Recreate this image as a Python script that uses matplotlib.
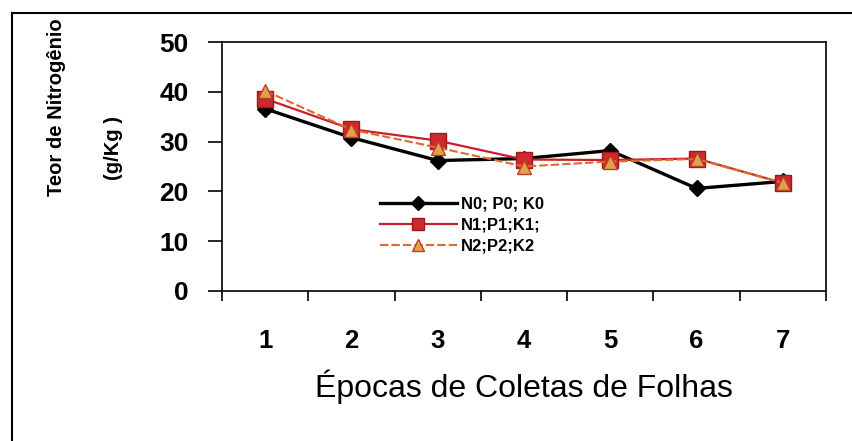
import matplotlib
matplotlib.use("Agg")
import matplotlib.pyplot as plt
from matplotlib.lines import Line2D

epocas = [1, 2, 3, 4, 5, 6, 7]
n0 = [36.6, 30.8, 26.2, 26.6, 28.2, 20.6, 22.0]
n1 = [38.6, 32.5, 30.2, 26.4, 26.3, 26.6, 21.7]
n2 = [40.2, 32.4, 28.8, 25.0, 26.0, 26.5, 21.7]
labels = ["N0; P0; K0", "N1;P1;K1;", "N2;P2;K2"]
yticks = [0, 10, 20, 30, 40, 50]

plt.rcParams['font.family'] = ['Liberation Sans', 'DejaVu Sans']

fig = plt.figure(figsize=(8.53, 4.41), dpi=100)
fig.patch.set_facecolor('white')
ax = fig.add_axes([222/853, 1-291/441, (826-222)/853, (291-42)/441])

ax.plot(epocas, n0, color='black', lw=2.4, marker='D', ms=8,
        mfc='black', mec='black', label=labels[0], zorder=3)
ax.plot(epocas, n1, color='#c8202a', lw=1.6, marker='s', ms=11,
        mfc='#cc2a2e', mec='#a0181c', label=labels[1], zorder=4)
ax.plot(epocas, n2, color='#e06a2c', lw=1.5, ls=(0, (4, 1.5)), marker='^', ms=10,
        mfc='#e0a050', mec='#b8401e', label=labels[2], zorder=5)

ax.set_xlim(0.5, 7.5)
ax.set_ylim(0, 50)
ax.set_yticks(yticks)
ax.set_yticklabels([str(v) for v in yticks], fontsize=19, fontweight='bold')
ax.set_xticks(epocas)
ax.set_xticklabels([str(v) for v in epocas], fontsize=18.5, fontweight='bold')
ax.set_xticks([x + 0.5 for x in [0] + epocas], minor=True)
ax.tick_params(axis='x', which='major', length=0, pad=27)
ax.tick_params(axis='x', which='minor', length=7, width=1.2, direction='out')
ax.tick_params(axis='y', which='major', length=10, width=1.2, direction='out', pad=14)
for s in ax.spines.values():
    s.set_linewidth(1.2)

ax.set_xlabel("Épocas de Coletas de Folhas", fontsize=23, labelpad=12)

fig.text(57/853, 1-107/441, "Teor de Nitrogênio", rotation=90, fontsize=14.5,
         fontweight='bold', ha='center', va='center')
fig.text(114/853, 1-148/441, "(g/Kg )", rotation=90, fontsize=14.5,
         fontweight='bold', ha='center', va='center')

leg = ax.legend(loc='center left', bbox_to_anchor=(0.248, 0.265), frameon=False,
                handlelength=4.6, handletextpad=0.25, labelspacing=0.35,
                borderpad=0, markerscale=0.85, prop={'weight': 'bold', 'size': 12})

fig.add_artist(Line2D([12/853, 12/853], [0, 1-13/441], transform=fig.transFigure,
                      color='black', lw=1.5))
fig.add_artist(Line2D([12/853, 1], [1-13/441, 1-13/441], transform=fig.transFigure,
                      color='black', lw=1.5))

fig.savefig("out.png", dpi=100)
